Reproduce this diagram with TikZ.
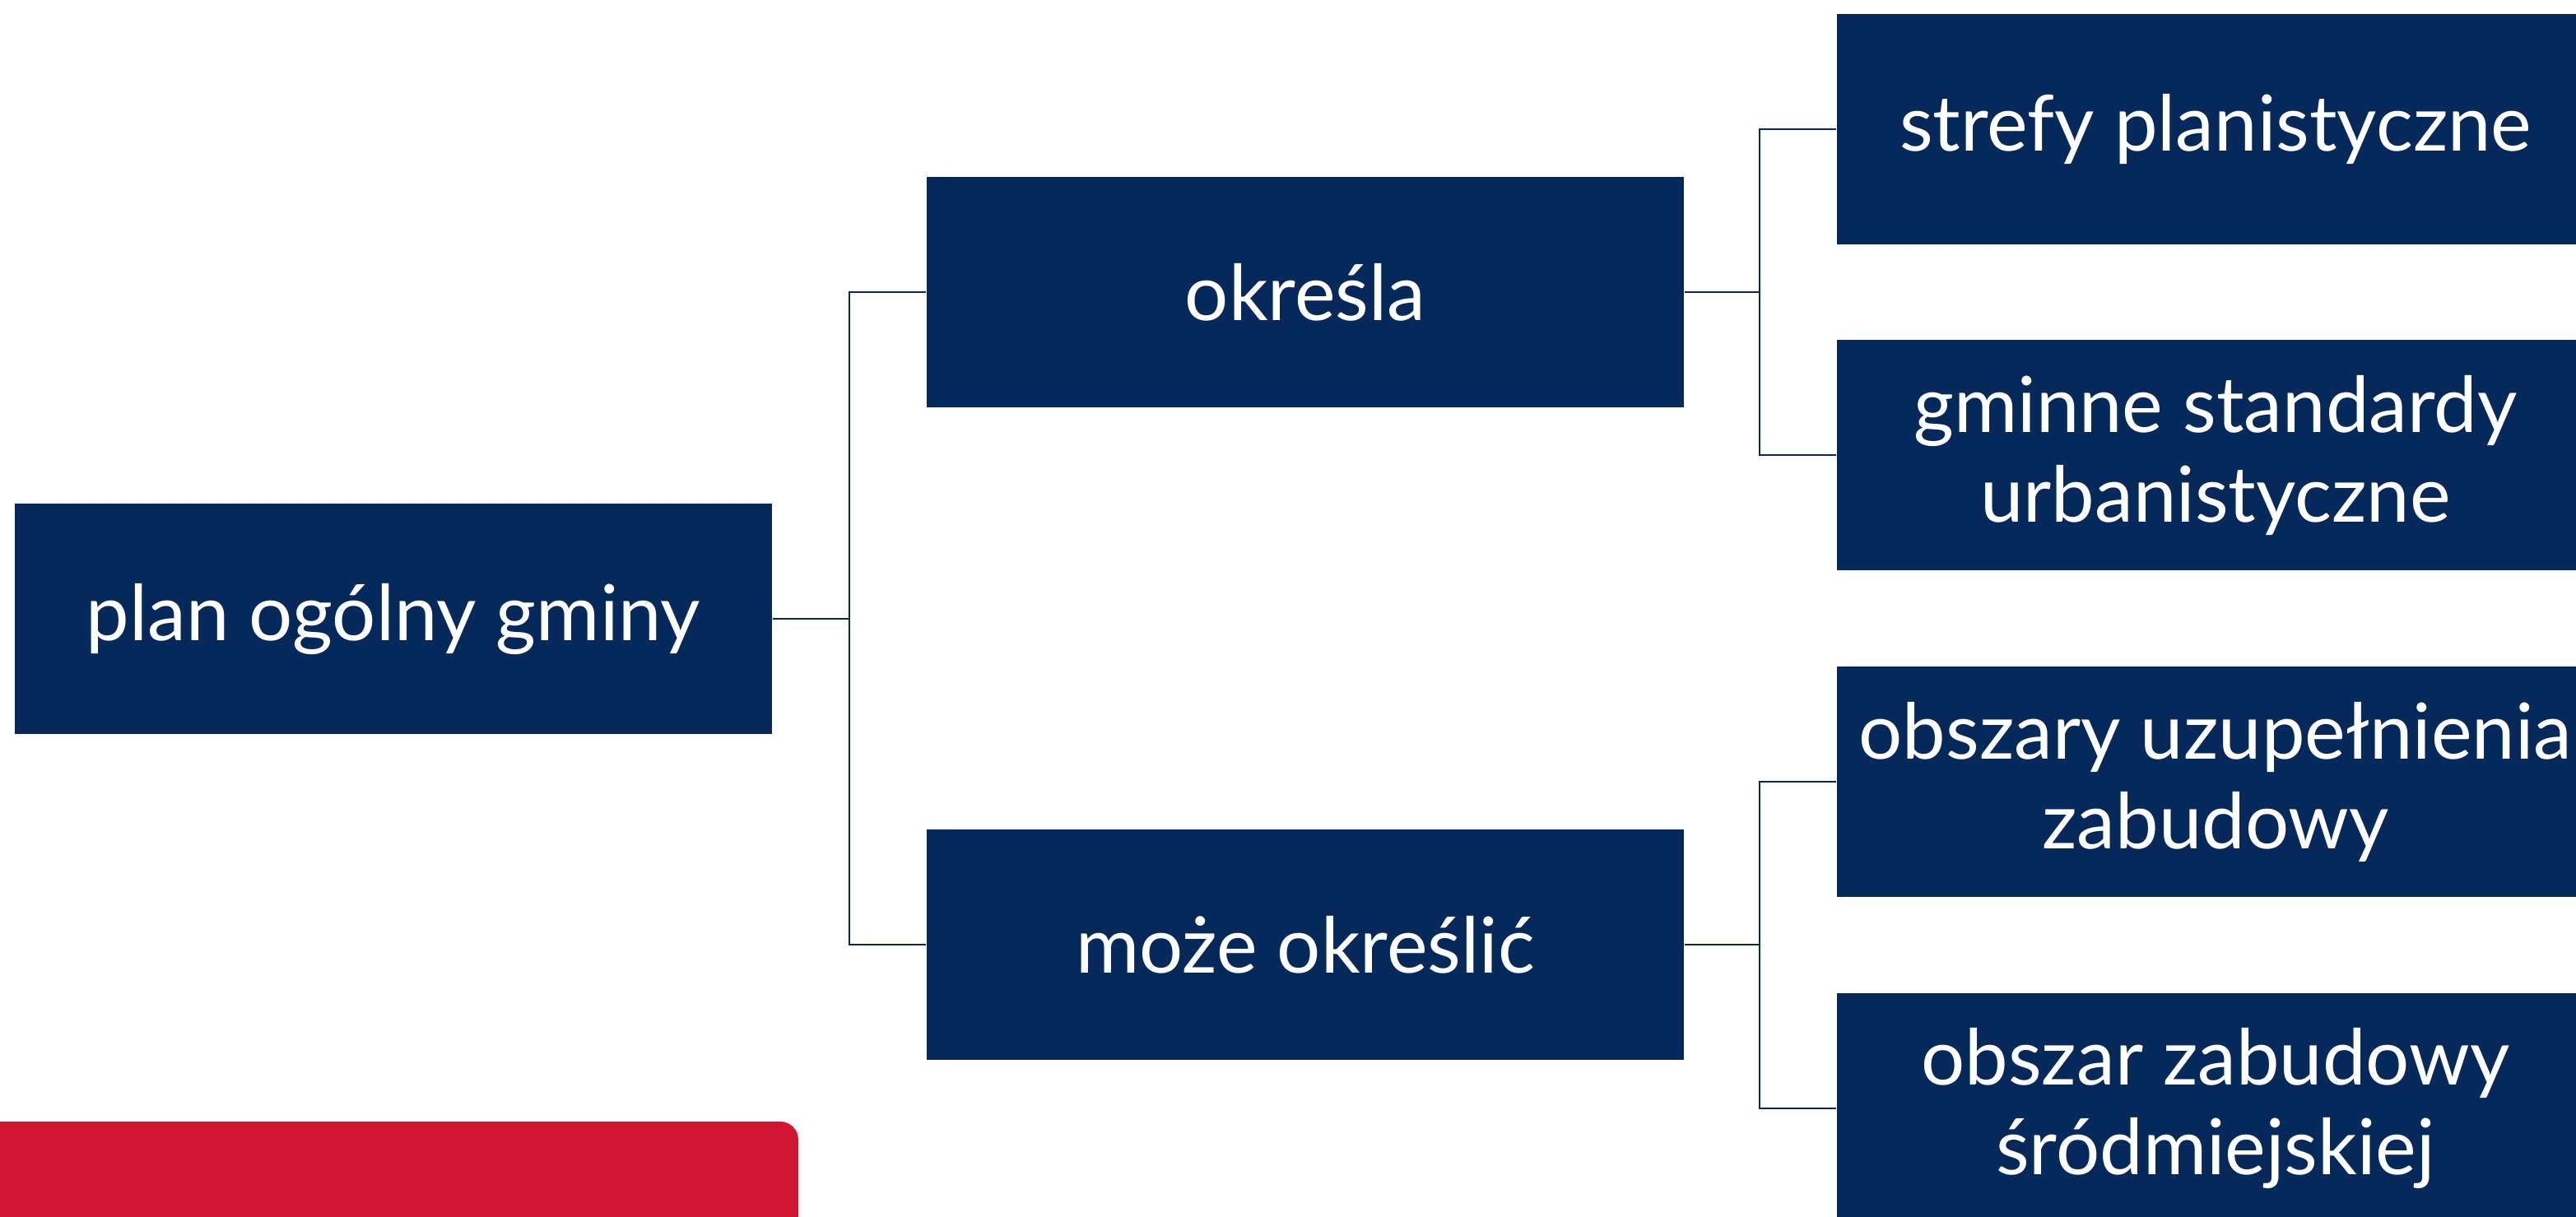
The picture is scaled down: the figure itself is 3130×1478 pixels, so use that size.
\documentclass[tikz,border=0pt]{standalone}
\usepackage{fontspec}
\setmainfont{Lato}
\definecolor{navy}{HTML}{06295C}
\definecolor{redc}{HTML}{D01631}
\begin{document}
\begin{tikzpicture}[x=0.01cm,y=-0.01cm,
  box/.style={fill=navy,text=white,minimum width=9.2cm,minimum height=2.79cm,inner sep=0pt,align=center,font=\fontsize{26.7}{31}\selectfont},
  conn/.style={draw=navy,line width=0.6pt}]
\clip (0,0) rectangle (3130,1478);
\fill[white] (0,0) rectangle (3130,1478);
\node[box] (root) at (478,752) {plan ogólny gminy};
\node[box] (m1) at (1586,355) {określa};
\node[box] (m2) at (1586,1148) {może określić};
\node[box] (r1) at (2692,157) {strefy planistyczne};
\node[box] (r2) at (2692,553) {gminne standardy\\urbanistyczne};
\node[box] (r3) at (2692,950) {obszary uzupełnienia\\zabudowy};
\node[box] (r4) at (2692,1347) {obszar zabudowy\\śródmiejskiej};
\coordinate (j0) at (1032,752);
\coordinate (j1) at (2138,355);
\coordinate (j2) at (2138,1148);
\draw[conn] (root.east) -- (j0);
\draw[conn] (j0) |- (m1.west);
\draw[conn] (j0) |- (m2.west);
\draw[conn] (m1.east) -- (j1);
\draw[conn] (j1) |- (r1.west);
\draw[conn] (j1) |- (r2.west);
\draw[conn] (m2.east) -- (j2);
\draw[conn] (j2) |- (r3.west);
\draw[conn] (j2) |- (r4.west);
\fill[redc] (0,1500) -- (0,1363) {[rounded corners=0.22cm] -- (970,1363) -- (970,1500)} -- cycle;
\end{tikzpicture}
\end{document}
